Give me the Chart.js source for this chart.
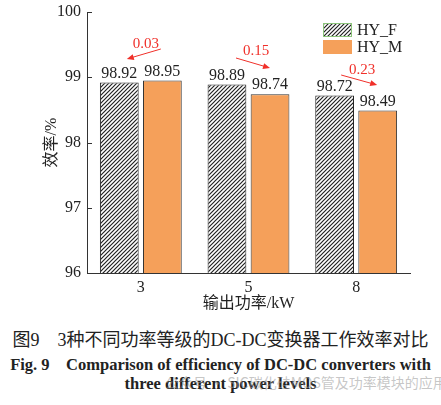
<!DOCTYPE html>
<html>
<head>
<meta charset="utf-8">
<script src="https://cdn.jsdelivr.net/npm/chart.js@4/dist/chart.umd.min.js"></script>
<style>
body{margin:0;background:#fff;width:441px;height:405px;overflow:hidden;position:relative;}
#box{position:absolute;left:0;top:0;width:441px;height:315px;}
.cap{position:absolute;left:0;width:441px;text-align:center;white-space:nowrap;color:#222;font-family:"Liberation Serif","Noto Sans CJK SC",serif;}
#wm{position:absolute;left:165px;top:372px;font-family:"Noto Sans CJK SC",sans-serif;font-size:14px;color:rgba(150,150,150,0.55);white-space:nowrap;}
</style>
</head>
<body>
<div id="box"><canvas id="chart" width="441" height="315"></canvas></div>
<div class="cap" style="top:325px;font-size:18px;font-weight:normal;">图9　3种不同功率等级的DC-DC变换器工作效率对比</div>
<div class="cap" style="top:351px;font-size:16.5px;font-weight:bold;">Fig. 9　Comparison of efficiency of DC-DC converters with</div>
<div class="cap" style="top:374px;font-size:16.5px;font-weight:bold;">three different power levels</div>
<div id="wm">公众号 · SIC碳化硅MOS管及功率模块的应用</div>
<script>
var categorias = ['3','5','8'];
var serieF = [98.92, 98.89, 98.72];
var serieM = [98.95, 98.74, 98.49];
var diferencias = ['0.03','0.15','0.23'];
var ticksY = [96, 97, 98, 99, 100];

var fuente = '"Liberation Serif", "Noto Sans CJK SC", serif';

// posiciones de las anotaciones rojas (relativas al centro de la categoria)
var anotTexto = [[5, 44], [7.5, 51], [6, 70]];
var anotFlecha = [[[20, 49], [-14, 59]], [[-12.5, 58], [21.5, 68]], [[-15, 75], [21, 85]]];

function rayado(){
	var c = document.createElement('canvas');
	c.width = 4; c.height = 4;
	var g = c.getContext('2d');
	g.fillStyle = '#fff';
	g.fillRect(0,0,4,4);
	g.strokeStyle = '#222';
	g.lineWidth = 1.2;
	g.beginPath();
	g.moveTo(-1,5); g.lineTo(5,-1);
	g.moveTo(-1,1); g.lineTo(1,-1);
	g.moveTo(3,5); g.lineTo(5,3);
	g.stroke();
	return document.getElementById('chart').getContext('2d').createPattern(c,'repeat');
}

var naranja = '#F5A05A';

var extras = {
	id: 'extras',
	afterDatasetsDraw: function(chart){
		var ctx = chart.ctx;
		var a = chart.chartArea;
		var ys = chart.scales.y;
		var xs = chart.scales.x;
		ctx.save();

		// ticks hacia adentro
		ctx.strokeStyle = '#333';
		ctx.lineWidth = 1;
		for (var i in ticksY){
			var ty = Math.round(ys.getPixelForValue(ticksY[i])) + 0.5;
			ctx.beginPath();
			ctx.moveTo(a.left, ty);
			ctx.lineTo(a.left + 5, ty);
			ctx.stroke();
		}

		// etiquetas de valores
		ctx.fillStyle = '#222';
		ctx.font = '16px ' + fuente;
		ctx.textAlign = 'center';
		ctx.textBaseline = 'bottom';
		chart.data.datasets.forEach(function(ds, d){
			var meta = chart.getDatasetMeta(d);
			meta.data.forEach(function(bar, k){
				ctx.fillText(ds.data[k].toFixed(2), bar.x, bar.y - 1);
			});
		});

		// anotaciones rojas
		ctx.fillStyle = '#F0302A';
		ctx.strokeStyle = '#F0302A';
		ctx.font = '15px ' + fuente;
		ctx.textBaseline = 'middle';
		for (var k = 0; k < diferencias.length; k++){
			var cx = xs.getPixelForValue(k);
			ctx.fillText(diferencias[k], cx + anotTexto[k][0], anotTexto[k][1]);
			var p0 = anotFlecha[k][0], p1 = anotFlecha[k][1];
			var x0 = cx + p0[0], y0 = p0[1], x1 = cx + p1[0], y1 = p1[1];
			var ang = Math.atan2(y1 - y0, x1 - x0);
			ctx.lineWidth = 1;
			ctx.beginPath();
			ctx.moveTo(x0, y0);
			ctx.lineTo(x1 - 4*Math.cos(ang), y1 - 4*Math.sin(ang));
			ctx.stroke();
			ctx.beginPath();
			ctx.moveTo(x1, y1);
			ctx.lineTo(x1 - 7*Math.cos(ang) + 3*Math.sin(ang), y1 - 7*Math.sin(ang) - 3*Math.cos(ang));
			ctx.lineTo(x1 - 7*Math.cos(ang) - 3*Math.sin(ang), y1 - 7*Math.sin(ang) + 3*Math.cos(ang));
			ctx.closePath();
			ctx.fill();
		}

		// leyenda
		var lx = a.right - 87, ly = a.top + 11;
		chart.data.datasets.forEach(function(ds, d){
			var by = ly + d*17;
			ctx.fillStyle = ds.backgroundColor;
			ctx.fillRect(lx, by, 29, 14);
			if (d == 0){
				ctx.strokeStyle = '#8BC47A';
				ctx.lineWidth = 1;
				ctx.strokeRect(lx + 0.5, by + 0.5, 28, 13);
			}
			ctx.fillStyle = '#222';
			ctx.font = '16px ' + fuente;
			ctx.textAlign = 'left';
			ctx.textBaseline = 'middle';
			ctx.fillText(ds.label, lx + 34, by + 8);
		});

		// titulos de ejes
		ctx.font = '16px ' + fuente;
		ctx.textAlign = 'center';
		ctx.textBaseline = 'middle';
		ctx.fillText('输出功率/kW', (a.left + a.right)/2, a.bottom + 31);
		ctx.translate(52, (a.top + a.bottom)/2);
		ctx.rotate(-Math.PI/2);
		ctx.fillText('效率/%', 0, 0);
		ctx.restore();
	}
};

function crear(){
	var patron = rayado();
	var datos = {
		type: 'bar',
		data: {
			labels: categorias,
			datasets: [{
				label: 'HY_F',
				data: serieF,
				backgroundColor: patron,
				borderColor: '#222',
				borderWidth: 1,
				borderSkipped: 'bottom'
			},{
				label: 'HY_M',
				data: serieM,
				backgroundColor: naranja,
				borderColor: '#333',
				borderWidth: 1,
				borderSkipped: 'bottom'
			}]
		},
		options: {
			responsive: false,
			animation: false,
			layout: { padding: { left: 0, right: 31, top: 12, bottom: 0 } },
			plugins: { legend: { display: false }, tooltip: { enabled: false } },
			scales: {
				x: {
					categoryPercentage: 0.8,
					barPercentage: 1.0,
					grid: { display: false, drawTicks: false },
					border: { display: true, color: '#333', width: 1 },
					ticks: { color: '#222', font: { family: fuente, size: 16 }, padding: 5 },
					afterFit: function(s){ s.height = 42; }
				},
				y: {
					min: 96,
					max: 100,
					grid: { display: false, drawTicks: false },
					border: { display: true, color: '#333', width: 1 },
					ticks: { stepSize: 1, color: '#222', font: { family: fuente, size: 16, lineHeight: 0.7 }, padding: 6 },
					afterFit: function(s){ s.width = 87; }
				}
			}
		},
		plugins: [extras]
	};
	var canvas = document.getElementById('chart').getContext('2d');
	window.grafico = new Chart(canvas, datos);
}

Promise.all([
	document.fonts.load('16px "Liberation Serif"'),
	document.fonts.load('16px "Noto Sans CJK SC"', '输出功率效率')
]).then(crear, crear);
</script>
</body>
</html>
